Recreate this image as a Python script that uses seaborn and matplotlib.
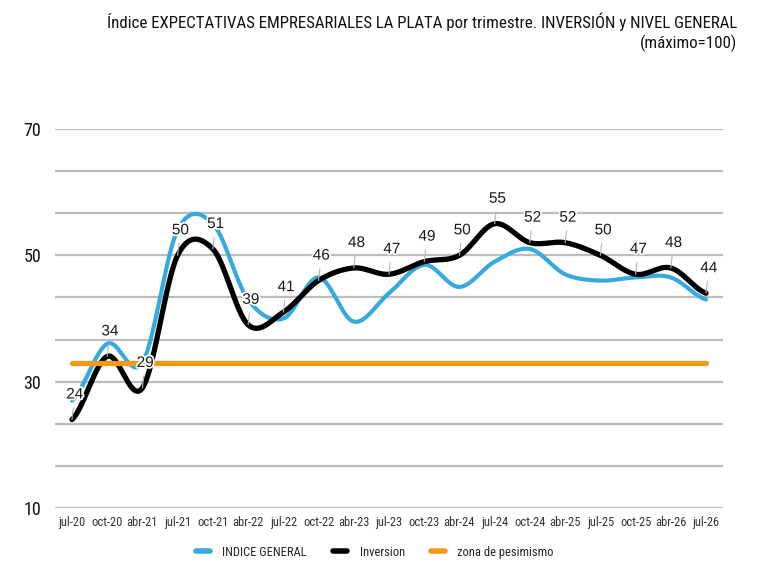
import numpy as np
import pandas as pd
import matplotlib
matplotlib.use("Agg")
import matplotlib.pyplot as plt
import matplotlib.patheffects as pe
import seaborn as sns

# ----------------------------------------------------------------------------------
# Data
# ----------------------------------------------------------------------------------
trimestres = ["jul-20", "oct-20", "abr-21", "jul-21", "oct-21", "abr-22", "jul-22",
              "oct-22", "abr-23", "jul-23", "oct-23", "abr-24", "jul-24", "oct-24",
              "abr-25", "jul-25", "oct-25", "abr-26", "jul-26"]
indice_general = [27, 36, 33, 54, 55, 43, 40, 46.5, 39.5, 44, 48.5, 45, 49, 51,
                  47, 46, 46.5, 46.5, 43]
inversion = [24, 34, 29, 50, 51, 39, 41, 46, 48, 47, 49, 50, 55, 52, 52, 50, 47, 48, 44]
pesimismo = [33] * len(trimestres)
y_ticks = [10, 30, 50, 70]

AZUL = "#36aade"
NEGRO = "#000000"
NARANJA = "#f39a1b"
FONT = ["Roboto Condensed", "Liberation Sans Narrow", "DejaVu Sans"]


def smooth(vals, n=40):
    # Excel-style smoothed line (Catmull-Rom through every point)
    y = np.asarray(vals, float)
    ext = np.r_[y[0], y, y[-1]]
    xs, ys = [], []
    t = np.linspace(0, 1, n, endpoint=False)
    for i in range(len(y) - 1):
        p0, p1, p2, p3 = ext[i:i + 4]
        m1, m2 = (p2 - p0) / 2, (p3 - p1) / 2
        h00 = 2 * t**3 - 3 * t**2 + 1
        h10 = t**3 - 2 * t**2 + t
        h01 = -2 * t**3 + 3 * t**2
        h11 = t**3 - t**2
        ys.append(h00 * p1 + h10 * m1 + h01 * p2 + h11 * m2)
        xs.append(i + t)
    xs.append([len(y) - 1])
    ys.append([y[-1]])
    return pd.DataFrame({"x": np.concatenate(xs), "y": np.concatenate(ys)})


sns.set_theme(style="white")
plt.rcParams["font.family"] = FONT

fig = plt.figure(figsize=(7.59, 5.64), dpi=100)
ax = fig.add_axes([0.0725, 0.0993, 0.880, 0.672])

# gridlines every 20/3 between 10 and 70
for g in np.linspace(10, 70, 10):
    ax.axhline(g, color="#bdbdbd", lw=1.6, zorder=0)

x = np.arange(len(trimestres))
sg = smooth(indice_general)
si = smooth(inversion)
sns.lineplot(data=sg, x="x", y="y", sort=False, color=AZUL, lw=3.0, ax=ax,
             label="INDICE GENERAL", zorder=2)
sns.lineplot(data=si, x="x", y="y", sort=False, color=NEGRO, lw=3.8, ax=ax,
             label="Inversion", zorder=3)
sns.lineplot(x=x, y=pesimismo, color=NARANJA, lw=3.8, ax=ax,
             label="zona de pesimismo", zorder=4)

# data labels for Inversion
for xi, v in zip(x, inversion):
    ax.annotate(f"{v:g}", xy=(xi, v), xytext=(2, 18), textcoords="offset points",
                ha="center", va="center", fontsize=11, color="#1a1a1a",
                family=["Liberation Sans", "DejaVu Sans"], zorder=6,
                path_effects=[pe.withStroke(linewidth=2.5, foreground="white")],
                arrowprops=dict(arrowstyle="-", color="#b5b5b5", lw=0.8,
                                shrinkA=2, shrinkB=0))

ax.set_xlim(-0.48, 18.48)
ax.set_ylim(10, 70)
ax.set_yticks(y_ticks)
ax.set_yticklabels([str(v) for v in y_ticks], fontsize=13, color="#111111")
ax.set_xticks(x)
ax.set_xticklabels(trimestres, fontsize=9, color="#333333")
ax.tick_params(axis="y", length=0, pad=10)
ax.tick_params(axis="x", length=0, pad=6)
ax.set_xlabel("")
ax.set_ylabel("")
for s in ax.spines.values():
    s.set_visible(False)

h, l = ax.get_legend_handles_labels()
ax.get_legend().remove()
leg = fig.legend(h, l, loc="center", bbox_to_anchor=(0.494, 0.021), ncol=3,
                 frameon=False, fontsize=9, handlelength=1.1, columnspacing=2.1,
                 handletextpad=1.0)
for line in leg.get_lines():
    line.set_linewidth(4)

fig.text(0.971, 0.962, "Índice EXPECTATIVAS EMPRESARIALES LA PLATA por trimestre. "
         "INVERSIÓN y NIVEL GENERAL", ha="right", va="center", fontsize=12.2,
         color="#111111")
fig.text(0.971, 0.923, "(máximo=100)", ha="right", va="center", fontsize=12.2,
         color="#111111")

fig.savefig("out.png", dpi=100)
